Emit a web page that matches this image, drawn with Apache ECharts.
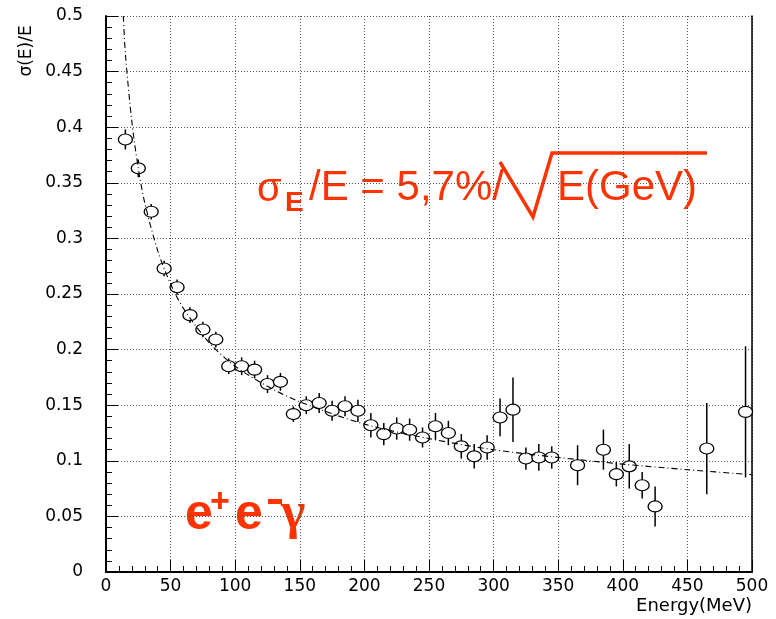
<!DOCTYPE html>
<html>
<head>
<meta charset="utf-8">
<script src="https://cdn.jsdelivr.net/npm/echarts@6/dist/echarts.min.js"></script>
<style>
  html, body { margin: 0; padding: 0; background: #fff; }
  #main { width: 776px; height: 619px; }
</style>
</head>
<body>
<div id="main"></div>
<script>
// measured points: bin centre (MeV), sigma(E)/E, error
var energy = [15, 25, 35, 45, 55, 65, 75, 85, 95, 105, 115, 125, 135, 145, 155, 165, 175, 185, 195, 205,
              215, 225, 235, 245, 255, 265, 275, 285, 295, 305, 315, 325, 335, 345, 365, 385, 395, 405, 415, 425, 465, 495];
var sigma = [0.389, 0.363, 0.324, 0.273, 0.256, 0.231, 0.218, 0.209, 0.185, 0.185, 0.182, 0.169, 0.171, 0.142, 0.150, 0.152, 0.145, 0.149, 0.145, 0.132,
             0.124, 0.129, 0.128, 0.121, 0.131, 0.125, 0.113, 0.104, 0.112, 0.139, 0.146, 0.102, 0.103, 0.103, 0.096, 0.110, 0.088, 0.095, 0.078, 0.059, 0.111, 0.144];
var sigmaErr = [0.009, 0.008, 0.007, 0.007, 0.007, 0.007, 0.007, 0.007, 0.007, 0.008, 0.008, 0.008, 0.008, 0.007, 0.008, 0.009, 0.009, 0.009, 0.010, 0.011,
                0.010, 0.010, 0.010, 0.009, 0.012, 0.011, 0.011, 0.011, 0.011, 0.017, 0.029, 0.010, 0.012, 0.010, 0.018, 0.018, 0.011, 0.020, 0.012, 0.018, 0.041, 0.059];

// fit curve
var fitEnergy = [13.4, 15, 20, 25, 30, 40, 50, 60, 80, 100, 125, 150, 200, 250, 300, 350, 400, 450, 500];
var fitSigma = [0.500, 0.466, 0.405, 0.363, 0.332, 0.289, 0.259, 0.237, 0.206, 0.185, 0.167, 0.153, 0.133, 0.120, 0.110, 0.103, 0.097, 0.092, 0.0875];

var xRange = [0, 500, 50];
var yRange = [0, 0.5, 0.05];

var red = '#ff3300';
var chart = echarts.init(document.getElementById('main'));

var points = energy.map(function (e, i) { return [e, sigma[i], sigmaErr[i]]; });
var fitLine = fitEnergy.map(function (e, i) { return [e, fitSigma[i]]; });

var gridLine = { show: true, lineStyle: { color: '#555', type: [1, 2], width: 1 } };

var option = {
    animation: false,
    backgroundColor: '#fff',
    grid: { left: 106, right: 24, top: 16, bottom: 47, outerBoundsMode: 'none' },
    xAxis: {
        type: 'value', min: xRange[0], max: xRange[1], interval: xRange[2],
        axisLine: { lineStyle: { color: '#000', width: 2 } },
        axisTick: { inside: true, length: 12, lineStyle: { color: '#000', width: 1 } },
        minorTick: { show: true, splitNumber: 5, length: 6, lineStyle: { color: '#000', width: 1 } },
        axisLabel: { color: '#000', fontFamily: 'DejaVu Sans', fontSize: 17, margin: 6 },
        splitLine: gridLine
    },
    yAxis: [{
        type: 'value', min: yRange[0], max: yRange[1], interval: yRange[2],
        axisLine: { show: true, lineStyle: { color: '#000', width: 2 } },
        axisTick: { show: true, inside: true, length: 12, lineStyle: { color: '#000', width: 1 } },
        minorTick: { show: true, splitNumber: 5, length: 6, lineStyle: { color: '#000', width: 1 } },
        axisLabel: { color: '#000', fontFamily: 'DejaVu Sans', fontSize: 17, margin: 23 },
        splitLine: gridLine
    }, {
        type: 'value', position: 'right', min: yRange[0], max: yRange[1], interval: yRange[2],
        axisLine: { show: true, lineStyle: { color: '#000', width: 1.5 } },
        axisTick: { show: false }, axisLabel: { show: false }, splitLine: { show: false }
    }],
    series: [{
        type: 'custom',
        data: points,
        z: 2,
        renderItem: function (params, api) {
            var x = api.value(0), y = api.value(1), err = api.value(2);
            var top = api.coord([x, y + err]);
            var bot = api.coord([x, y - err]);
            return {
                type: 'line',
                shape: { x1: top[0], y1: top[1], x2: bot[0], y2: bot[1] },
                style: { stroke: '#000', lineWidth: 1.5 }
            };
        }
    }, {
        type: 'scatter',
        data: points,
        z: 3,
        symbol: 'circle',
        symbolSize: [14, 11],
        itemStyle: { color: '#fff', borderColor: '#000', borderWidth: 1.2, opacity: 1 }
    }, {
        type: 'line',
        data: fitLine,
        z: 4,
        smooth: 0.3,
        showSymbol: false,
        lineStyle: { color: '#000', width: 1.1, type: [6, 3, 1, 3] }
    }],
    graphic: [
        // axis titles
        { type: 'text', x: 27, y: 51, rotation: Math.PI / 2,
          style: { text: 'σ(E)/E', fill: '#000', font: '17px "DejaVu Sans"', align: 'center', verticalAlign: 'middle' } },
        { type: 'text', x: 752, y: 606,
          style: { text: 'Energy(MeV)', fill: '#000', font: '18px "DejaVu Sans"', align: 'right', verticalAlign: 'middle' } },
        // resolution formula
        { type: 'text', x: 257, y: 189.6,
          style: { text: 'σ', fill: red, font: '40px "Liberation Sans"', align: 'left', verticalAlign: 'middle' } },
        { type: 'text', x: 285, y: 203.3,
          style: { text: 'E', fill: red, font: 'bold 28px "Liberation Sans"', align: 'left', verticalAlign: 'middle' } },
        { type: 'text', x: 309, y: 188.5,
          style: { text: '/E = 5,7%/', fill: red, font: '42px "Liberation Sans"', align: 'left', verticalAlign: 'middle' } },
        { type: 'polyline',
          shape: { points: [[500, 162], [533, 217], [552, 153], [707, 153]] },
          style: { stroke: red, lineWidth: 3.5, fill: null } },
        { type: 'text', x: 557, y: 188.5,
          style: { text: 'E(GeV)', fill: red, font: '42px "Liberation Sans"', align: 'left', verticalAlign: 'middle' } },
        // e+e-gamma
        { type: 'text', x: 185, y: 515.7,
          style: { text: 'e', fill: red, font: 'bold 50px "Liberation Sans"', align: 'left', verticalAlign: 'middle' } },
        { type: 'text', x: 210, y: 503,
          style: { text: '+', fill: red, font: 'bold 34px "Liberation Sans"', align: 'left', verticalAlign: 'middle' } },
        { type: 'text', x: 235, y: 515.7,
          style: { text: 'e', fill: red, font: 'bold 50px "Liberation Sans"', align: 'left', verticalAlign: 'middle' } },
        { type: 'rect', shape: { x: 268, y: 499, width: 14, height: 5 }, style: { fill: red } },
        { type: 'text', x: 281, y: 514.5,
          style: { text: 'γ', fill: red, font: 'bold 52px "Liberation Serif"', align: 'left', verticalAlign: 'middle' } }
    ]
};

chart.setOption(option);
</script>
</body>
</html>
